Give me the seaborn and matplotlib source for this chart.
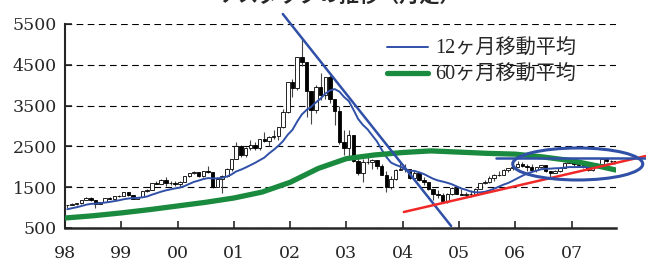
import numpy as np
import pandas as pd
import seaborn as sns
import matplotlib.pyplot as plt
from matplotlib.patches import Ellipse

sns.set_style('ticks')
plt.rcParams['font.family'] = ['DejaVu Serif', 'Noto Sans CJK JP']

# monthly candles, chart months start at 98/01
prior_closes = [793, 817, 843, 864, 933, 1001, 1020, 1044, 1036, 1059, 1052]
closes = [1060, 1100, 1101, 1191, 1243, 1185, 1081, 1142, 1227, 1222, 1293, 1291,
          1380, 1309, 1222, 1261, 1400, 1442, 1594, 1587, 1686, 1594, 1601, 1570,
          1619, 1771, 1836, 1868, 1779, 1895, 1872, 1499, 1694, 1771, 1950, 2193,
          2506, 2288, 2461, 2543, 2471, 2686, 2638, 2739, 2746, 2966, 3336, 4069,
          3940, 4697, 4573, 3861, 3401, 3966, 3767, 4206, 3673, 3370, 2598, 2471,
          2773, 2152, 1840, 2116, 2110, 2161, 2027, 1805, 1499, 1690, 1931, 1950,
          1934, 1731, 1845, 1688, 1616, 1463, 1328, 1315, 1172, 1330, 1479, 1336,
          1321, 1338, 1341, 1464, 1596, 1623, 1735, 1810, 1787, 1932, 1960, 2003,
          2066, 2030, 1994, 1920, 1987, 2048, 1887, 1838, 1897, 1975, 2097, 2175,
          2062, 2052, 1999, 1922, 2068, 2057, 2185, 2152, 2152, 2120]
highs = [1070, 1117, 1115, 1195, 1250, 1250, 1190, 1145, 1230, 1250, 1295, 1320,
         1380, 1390, 1320, 1270, 1410, 1450, 1600, 1660, 1700, 1750, 1640, 1650,
         1640, 1775, 1840, 1900, 1875, 1900, 2015, 1880, 1760, 1790, 1960, 2200,
         2600, 2530, 2490, 2650, 2600, 2690, 2860, 2760, 2890, 2970, 3420, 4090,
         4150, 4697, 5132, 4580, 3810, 4016, 4289, 4211, 4259, 3658, 3482, 2890,
         2892, 2744, 2224, 2183, 2301, 2193, 2149, 2074, 1896, 1770, 1943, 2098,
         2060, 1919, 1929, 1866, 1754, 1630, 1461, 1426, 1354, 1370, 1494, 1521,
         1467, 1382, 1425, 1482, 1601, 1682, 1775, 1813, 1907, 1944, 1981, 2010,
         2154, 2112, 2063, 2080, 1998, 2050, 2049, 1892, 1914, 1993, 2110, 2191,
         2191, 2096, 2082, 2010, 2078, 2098, 2193, 2219, 2167, 2171]
lows = [980, 1054, 1060, 1095, 1175, 1160, 1000, 1080, 1135, 1200, 1215, 1260,
        1290, 1290, 1200, 1200, 1260, 1380, 1440, 1570, 1590, 1530, 1550, 1540,
        1500, 1620, 1760, 1820, 1740, 1740, 1860, 1480, 1500, 1360, 1760, 1900,
        2190, 2250, 2250, 2400, 2400, 2400, 2620, 2500, 2670, 2660, 2960, 3320,
        3712, 3874, 4472, 3227, 3043, 3329, 3649, 3658, 3569, 3026, 2567, 2288,
        2251, 2116, 1794, 1619, 2065, 1934, 1940, 1789, 1387, 1463, 1677, 1918,
        1884, 1696, 1727, 1664, 1563, 1423, 1191, 1241, 1172, 1108, 1309, 1327,
        1311, 1270, 1253, 1341, 1460, 1590, 1612, 1650, 1780, 1799, 1883, 1931,
        2000, 2004, 1897, 1912, 1865, 1959, 1881, 1750, 1837, 1884, 1975, 2082,
        2030, 2031, 1974, 1889, 1904, 2041, 2051, 2120, 2085, 2025]

# 60-month average
ma60_t = [1998.0, 1998.5, 1999.0, 1999.5, 2000.0, 2000.5, 2001.0, 2001.5, 2002.0,
          2002.5, 2003.0, 2003.5, 2004.0, 2004.5, 2005.0, 2005.5, 2006.0, 2006.5,
          2007.0, 2007.5, 2007.79]
ma60_v = [745, 800, 870, 950, 1040, 1130, 1235, 1380, 1620, 1960, 2200, 2290,
          2350, 2390, 2360, 2330, 2310, 2240, 2150, 2010, 1920]

year_ticks = [1998, 1999, 2000, 2001, 2002, 2003, 2004, 2005, 2006, 2007]
year_labels = ['98', '99', '00', '01', '02', '03', '04', '05', '06', '07']
y_ticks = [500, 1500, 2500, 3500, 4500, 5500]

legend_12 = '12ヶ月移動平均'
legend_60 = '60ヶ月移動平均'
title = 'ナスダックの推移（月足）'

n = len(closes)
t = 1998 + (np.arange(n) + 0.5) / 12
opens = np.array([prior_closes[-1]] + closes[:-1], dtype=float)
c = np.array(closes, dtype=float)
hi = np.maximum(np.array(highs, dtype=float), np.maximum(opens, c))
lo = np.minimum(np.array(lows, dtype=float), np.minimum(opens, c))
ma12 = pd.Series(prior_closes + closes, dtype=float).rolling(12).mean().values[len(prior_closes):]

df12 = pd.DataFrame({'t': t, 'v': ma12})
df60 = pd.DataFrame({'t': ma60_t, 'v': ma60_v})

fig = plt.figure(figsize=(6.46, 2.62), dpi=100)
ax = fig.add_axes([65 / 646, 34 / 262, 551 / 646, 204 / 262])

blue = '#3050a8'
green = '#1a8a3e'

ax.vlines(t, lo, hi, color='#444444', lw=0.8, zorder=2)
up = c >= opens
ax.bar(t[up], (c - opens)[up], bottom=opens[up], width=0.062, color='white',
       edgecolor='black', lw=0.6, zorder=3)
ax.bar(t[~up], (opens - c)[~up], bottom=c[~up], width=0.062, color='black',
       edgecolor='black', lw=0.6, zorder=3)

sns.lineplot(data=df12, x='t', y='v', ax=ax, color=blue, lw=1.4, label=legend_12, zorder=4)
sns.lineplot(data=df60, x='t', y='v', ax=ax, color=green, lw=3.8, label=legend_60, zorder=4)

# hand-drawn trend annotations
ax.plot([2001.87, 2004.86], [5745, 550], color=blue, lw=1.8, clip_on=False, zorder=5)
ax.plot([2004.02, 2008.32], [892, 2265], color='#f02828', lw=1.8, clip_on=False, zorder=5)
ax.plot([2005.66, 2008.32], [2223, 2223], color=blue, lw=1.8, clip_on=False, zorder=5)
ax.add_patch(Ellipse((2007.11, 2069), 2.31, 784, fill=False, edgecolor=blue, lw=2.2,
                     clip_on=False, zorder=5))

ax.set_xlim(1998, 2007.79)
ax.set_ylim(500, 5500)
ax.set_xticks(year_ticks)
ax.set_xticklabels(year_labels)
ax.set_yticks(y_ticks)
ax.set_xlabel('')
ax.set_ylabel('')
ax.tick_params(direction='in', length=5, width=1.2, labelsize=12.5, pad=6)
ax.tick_params(axis='x', pad=12)
ax.grid(axis='y', color='black', lw=0.8, linestyle=(0, (6, 4)))
sns.despine(ax=ax)
ax.spines['left'].set_linewidth(1.5)
ax.spines['bottom'].set_linewidth(1.8)

ax.legend(loc='upper left', bbox_to_anchor=(0.552, 1.01), frameon=False, handlelength=2.0,
          handletextpad=0.4, labelspacing=0.35,
          prop={'family': ['Liberation Serif', 'Noto Sans CJK JP'], 'size': 14.5})

fig.text(0.525, 1 - 6 / 262, title, ha='center', va='bottom', fontsize=14.5,
         fontweight='bold', family=['Noto Sans CJK JP', 'DejaVu Sans'])

fig.savefig('out.png', dpi=100)
